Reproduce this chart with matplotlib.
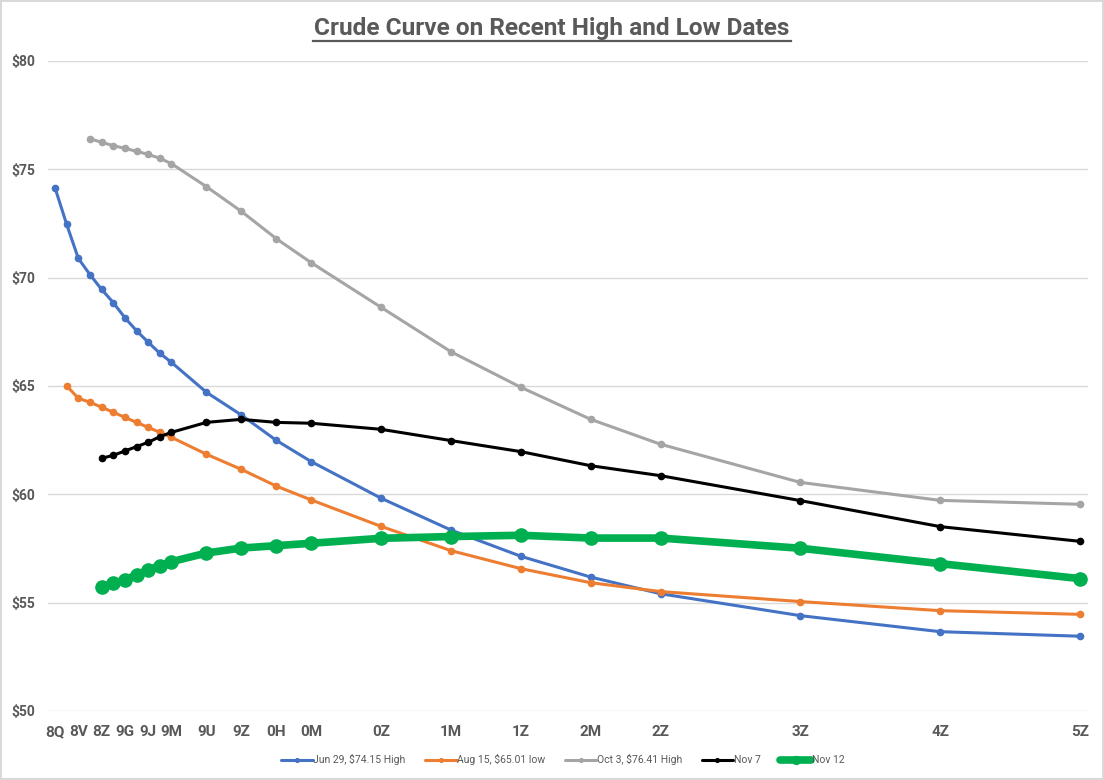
import numpy as np
import matplotlib
matplotlib.use("Agg")
import matplotlib.pyplot as plt

plt.rcParams["font.family"] = ["Roboto", "DejaVu Sans"]

# contract codes and months from Aug 2018
contracts = ["8Q", "8U", "8V", "8X", "8Z", "9F", "9G", "9H", "9J", "9K", "9M",
             "9U", "9Z", "0H", "0M", "0Z", "1M", "1Z", "2M", "2Z", "3Z", "4Z", "5Z"]
months = [0, 1, 2, 3, 4, 5, 6, 7, 8, 9, 10,
          13, 16, 19, 22, 28, 34, 40, 46, 52, 64, 76, 88]
tick_codes = ["8Q", "8V", "8Z", "9G", "9J", "9M", "9U", "9Z", "0H", "0M",
              "0Z", "1M", "1Z", "2M", "2Z", "3Z", "4Z", "5Z"]

nan = np.nan
jun29 = [74.15, 72.46, 70.89, 70.14, 69.46, 68.85, 68.15, 67.55, 67.02, 66.51, 66.09,
         64.71, 63.66, 62.49, 61.51, 59.82, 58.35, 57.14, 56.18, 55.41, 54.40, 53.66, 53.45]
aug15 = [nan, 65.01, 64.43, 64.25, 64.02, 63.79, 63.55, 63.32, 63.09, 62.86, 62.63,
         61.85, 61.15, 60.38, 59.74, 58.52, 57.40, 56.57, 55.92, 55.51, 55.05, 54.63, 54.46]
oct3 = [nan, nan, nan, 76.41, 76.25, 76.09, 75.97, 75.83, 75.69, 75.51, 75.26,
        74.20, 73.06, 71.80, 70.69, 68.63, 66.58, 64.94, 63.46, 62.31, 60.55, 59.72, 59.54]
nov7 = [nan, nan, nan, nan, 61.66, 61.80, 62.00, 62.20, 62.40, 62.66, 62.86,
        63.32, 63.46, 63.32, 63.28, 63.00, 62.48, 61.97, 61.32, 60.86, 59.71, 58.51, 57.83]
nov12 = [nan, nan, nan, nan, 55.72, 55.89, 56.05, 56.28, 56.51, 56.71, 56.89,
         57.29, 57.52, 57.63, 57.74, 57.97, 58.05, 58.11, 57.98, 57.98, 57.51, 56.80, 56.11]

series = [
    ("Jun 29, $74.15 High", jun29, "#4472C4", 2.2, 4.5),
    ("Aug 15, $65.01 low", aug15, "#ED7D31", 2.2, 4.5),
    ("Oct 3, $76.41 High", oct3, "#A5A5A5", 2.2, 4.5),
    ("Nov 7", nov7, "#000000", 2.2, 4.5),
    ("Nov 12", nov12, "#00B050", 5.5, 9.5),
]

fig = plt.figure(figsize=(11.04, 7.8), dpi=100)
fig.patch.set_edgecolor("#d9d9d9")
fig.patch.set_linewidth(1.5)
ax = fig.add_axes([0.0435, 0.0885, 0.942, 0.8333])

x = np.array(months, dtype=float)
for label, vals, color, lw, ms in series:
    y = np.array(vals, dtype=float)
    m = ~np.isnan(y)
    ax.plot(x[m], y[m], "-o", color=color, lw=lw, ms=ms, label=label,
            solid_capstyle="round", zorder=3)

ax.set_ylim(50, 80)
ax.set_yticks(np.arange(50, 81, 5))
ax.set_yticklabels([f"${v}" for v in range(50, 81, 5)])
ax.set_xlim(-0.6, 88.7)
ax.set_xticks([months[contracts.index(c)] for c in tick_codes])
ax.set_xticklabels(tick_codes)
ax.grid(axis="y", color="#d9d9d9", lw=1)
ax.set_axisbelow(True)
for s in ax.spines.values():
    s.set_visible(False)
ax.tick_params(length=0, colors="#595959")
ax.tick_params(axis="x", pad=10, labelsize=11)
ax.tick_params(axis="y", pad=9, labelsize=10)
for t in ax.get_xticklabels() + ax.get_yticklabels():
    t.set_fontweight("bold")

fig.text(0.5, 0.964, "Crude Curve on Recent High and Low Dates", ha="center",
         va="center", fontsize=17.6, fontweight="bold", color="#595959")
fig.add_artist(plt.Line2D([0.2835, 0.7165], [0.948, 0.948], color="#595959",
                          lw=1.6, transform=fig.transFigure))

leg = fig.legend(loc="center", bbox_to_anchor=(0.51, 0.026), ncol=5, frameon=False,
                 fontsize=7.5, handlelength=3.0, handletextpad=0.05, columnspacing=1.9,
                 markerscale=0.6)
for t in leg.get_texts():
    t.set_color("#595959")

fig.savefig("out.png", dpi=100, facecolor="white", edgecolor=fig.patch.get_edgecolor())
